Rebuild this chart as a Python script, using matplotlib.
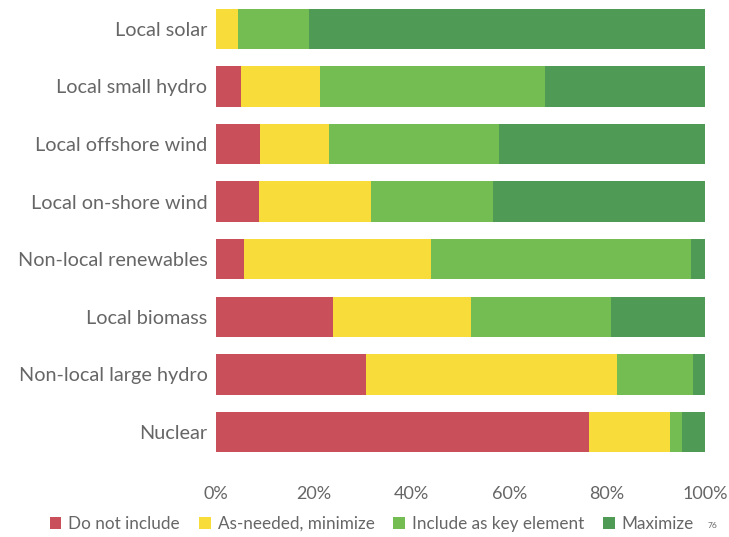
import numpy as np
from matplotlib import pyplot as plt
from matplotlib.ticker import PercentFormatter

categories = ['Local solar', 'Local small hydro', 'Local offshore wind', 'Local on-shore wind',
              'Non-local renewables', 'Local biomass', 'Non-local large hydro', 'Nuclear']
series = ['Do not include', 'As-needed, minimize', 'Include as key element', 'Maximize']
do_not_include = [0.0, 5.1, 9.0, 8.8, 5.8, 23.9, 30.7, 76.3]
as_needed = [4.5, 16.3, 14.2, 22.9, 38.1, 28.2, 51.4, 16.6]
key_element = [14.5, 45.9, 34.8, 24.9, 53.2, 28.7, 15.5, 2.4]
maximize = [81.0, 32.7, 42.0, 43.4, 2.9, 19.2, 2.4, 4.7]
colors = ['#c9505b', '#f7dc3a', '#74bd52', '#4f9a55']

plt.rcParams['font.family'] = ['Lato', 'DejaVu Sans']
text_color = '#666666'

fig = plt.figure(figsize=(7.29, 5.37), dpi=100)
ax = fig.add_axes([0.296, 0.142, 0.671, 0.858])

y = np.arange(len(categories))
left = np.zeros(len(categories))
for name, vals, c in zip(series, [do_not_include, as_needed, key_element, maximize], colors):
    ax.barh(y, vals, left=left, height=0.7, color=c, label=name)
    left += np.array(vals)

ax.set_xlim(0, 100)
ax.set_ylim(len(categories) - 0.5, -0.5)
ax.set_yticks(y)
ax.set_yticklabels(categories, fontsize=14.3)
ax.set_xticks([0, 20, 40, 60, 80, 100])
ax.xaxis.set_major_formatter(PercentFormatter(decimals=0))
ax.tick_params(length=0, colors=text_color)
ax.tick_params(axis='x', pad=18, labelsize=13)
ax.tick_params(axis='y', pad=6)
for s in ax.spines.values():
    s.set_visible(False)

leg = fig.legend(loc='center', bbox_to_anchor=(0.51, 0.024), ncol=4, frameon=False,
                 fontsize=12.3, handlelength=0.7, handleheight=0.7, handletextpad=0.4,
                 columnspacing=1.1)
for t in leg.get_texts():
    t.set_color(text_color)
fig.text(0.977, 0.022, '76', fontsize=6, color=text_color, ha='center', va='center')

fig.savefig('out.png', dpi=100)
